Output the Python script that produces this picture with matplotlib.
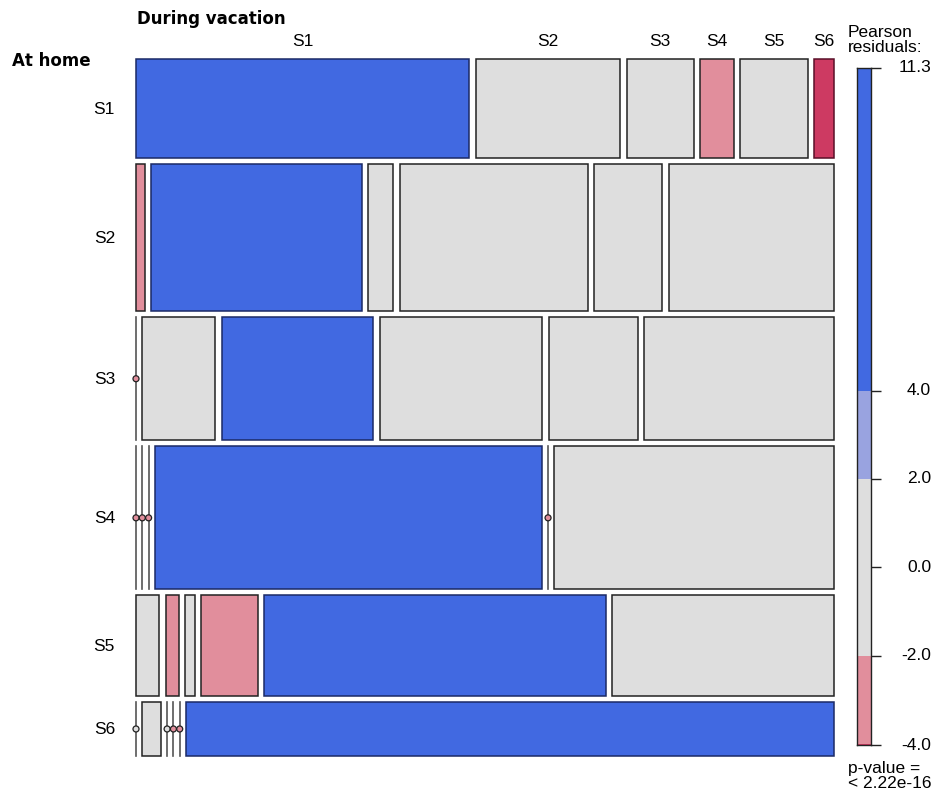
import matplotlib
matplotlib.use("Agg")
import matplotlib.pyplot as plt
from matplotlib.patches import Rectangle, Circle
import numpy as np

plt.rcParams["font.family"] = ["Liberation Sans", "DejaVu Sans"]

# ---- data ----
home = ["S1", "S2", "S3", "S4", "S5", "S6"]        # rows: At home
vacation = ["S1", "S2", "S3", "S4", "S5", "S6"]    # columns: During vacation
counts = np.array([
    [99, 43, 20, 10, 20, 6],
    [4, 93, 11, 83, 30, 73],
    [0, 27, 56, 60, 33, 70],
    [0, 0, 0, 166, 0, 120],
    [7, 4, 3, 17, 103, 67],
    [0, 3, 0, 0, 0, 105],
])
resid = np.array([
    [11.3, -1.0, 0.5, -2.5, 1.0, -4.02],
    [-2.3, 9.0, 0.3, 1.5, -0.5, 0.2],
    [-2.5, -1.5, 8.0, 0.5, -0.4, 0.3],
    [-3.0, -2.5, -2.2, 10.5, -2.3, -1.0],
    [-0.5, -2.2, -1.0, -3.0, 10.0, 0.5],
    [-1.5, -1.0, -1.2, -2.1, -2.2, 7.5],
])
legend_ticks = [-4.02, -2.0, 0.0, 2.0, 4.0, 11.3]
pval_text = "p-value =\n< 2.22e-16"

# shading levels (vcd-like hcl)
BLUE, LBLUE, GREY, PINK, RED = "#4169E1", "#99A3E0", "#DEDEDE", "#E18E9C", "#CD3A62"
def shade(r):
    if r > 4: return BLUE
    if r > 2: return LBLUE
    if r >= -2: return GREY
    if r >= -4: return PINK
    return RED
def edge(r):
    if r > 4: return "#1b2a66"
    if r < -4: return "#5a0f28"
    return "#222222"

W, H = 947, 798
fig = plt.figure(figsize=(W / 100, H / 100), dpi=100)
ax = fig.add_axes([0, 0, 1, 1])
ax.set_xlim(0, W); ax.set_ylim(H, 0); ax.axis("off")

# mosaic area in pixels
X0, X1, Y0, Y1 = 136, 834, 59, 756
gx, gy = 6.3, 6.0
nr, nc = counts.shape
row_tot = counts.sum(axis=1)
avail_h = (Y1 - Y0) - gy * (nr - 1)
avail_w = (X1 - X0) - gx * (nc - 1)

y = Y0
for i in range(nr):
    h = avail_h * row_tot[i] / row_tot.sum()
    x = X0
    for j in range(nc):
        w = avail_w * counts[i, j] / row_tot[i]
        r = resid[i, j]
        if counts[i, j] == 0:
            ax.plot([x, x], [y, y + h], color="#555555", lw=1.2, zorder=2)
            ax.add_patch(Circle((x, y + h / 2), 3.0, facecolor=shade(r),
                                edgecolor="#222222", lw=0.9, zorder=4))
        else:
            ax.add_patch(Rectangle((x, y), w, h, facecolor=shade(r),
                                   edgecolor=edge(r), lw=1.1, zorder=3))
        if i == 0:
            ax.text(x + w / 2, 49, vacation[j], ha="center", va="bottom", fontsize=12.5)
        x += w + gx
    ax.text(115, y + h / 2 + 1, home[i], ha="right", va="center", fontsize=12.5)
    y += h + gy

bold = dict(fontsize=12, fontweight="bold", family=["DejaVu Sans"])
ax.text(137, 19, "During vacation", ha="left", va="center", **bold)
ax.text(12, 61, "At home", ha="left", va="center", **bold)

# ---- legend bar ----
LX, LW, LT, LB = 857, 14, 68, 745
lax = fig.add_axes([LX / W, (H - LB) / H, LW / W, (LB - LT) / H])
lo, hi = resid.min(), resid.max()
lax.set_xlim(0, 1); lax.set_ylim(lo, hi)
bands = [(lo, -4.0, RED), (-4.0, -2.0, PINK), (-2.0, 2.0, GREY),
         (2.0, 4.0, LBLUE), (4.0, hi, BLUE)]
for b0, b1, c in bands:
    if b1 > b0:
        lax.bar(0.5, b1 - b0, bottom=b0, width=1.0, color=c, lw=0)
for s in lax.spines.values():
    s.set_linewidth(1.0); s.set_color("#222222")
lax.set_xticks([])
lax.yaxis.tick_right()
lax.set_yticks(legend_ticks)
lax.set_yticklabels([])
lax.tick_params(axis="y", direction="out", length=7, width=1.0, color="#222222")
for t in legend_ticks:
    lax.text((931 - LX) / LW, t, f"{t:.1f}", ha="right", va="center",
             fontsize=12.5, transform=lax.get_yaxis_transform())

ax.text(848, 40, "Pearson\nresiduals:", ha="left", va="center", fontsize=12.5,
        linespacing=0.95)
ax.text(848, 776, pval_text, ha="left", va="center", fontsize=12.5, linespacing=0.95)

fig.savefig("out.png", dpi=100)
